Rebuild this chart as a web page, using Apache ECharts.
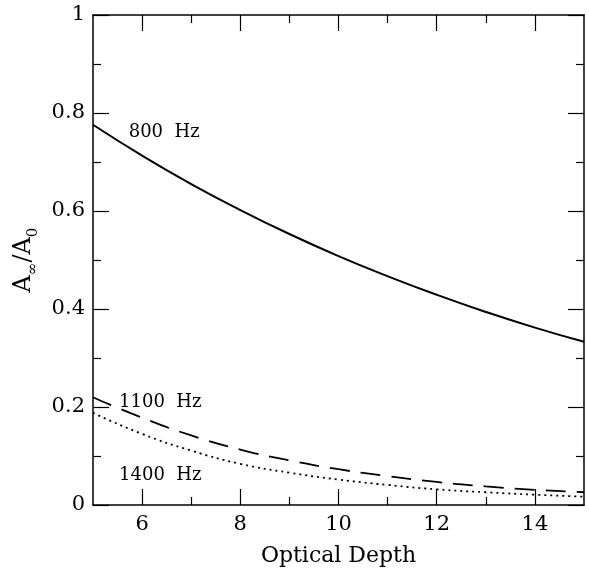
<!DOCTYPE html>
<html><head><meta charset="utf-8">
<script src="https://cdn.jsdelivr.net/npm/echarts@6/dist/echarts.min.js"></script>
<style>html,body{margin:0;padding:0;background:#fff}#c{width:589px;height:572px}</style>
</head><body><div id="c"></div>
<script>
const depth = [5, 6, 7, 8, 9, 10, 11, 12, 13, 14, 15];
const hz800 = [0.776, 0.713, 0.655, 0.602, 0.553, 0.508, 0.467, 0.429, 0.394, 0.362, 0.333];
const hz1100 = [0.220, 0.178, 0.142, 0.113, 0.091, 0.073, 0.059, 0.047, 0.038, 0.031, 0.026];
const hz1400 = [0.188, 0.145, 0.111, 0.084, 0.066, 0.052, 0.041, 0.032, 0.026, 0.021, 0.017];
const xMajor = [6, 8, 10, 12, 14];
const xMinor = [7, 9, 11, 13];
const labels = [
  {text: '800  Hz', x: 6.45, y: 0.761},
  {text: '1100  Hz', x: 6.37, y: 0.209},
  {text: '1400  Hz', x: 6.37, y: 0.060}
];
const FONT = 'DejaVu Serif';
const pairs = a => depth.map((d, i) => [d, a[i]]);
const chart = echarts.init(document.getElementById('c'));
const lineC = '#000';
function xAx(pos, ticks, len, showLabel, showLine, name) {
  return {
    type: 'value', position: pos, min: 5, max: 15, interval: 1,
    name: name || '', nameLocation: 'middle', nameGap: 40,
    nameTextStyle: {fontFamily: FONT, fontSize: 22, color: '#000'},
    axisLine: {show: showLine, onZero: false, lineStyle: {color: lineC, width: 1.5}},
    axisTick: {show: true, inside: true, length: len, customValues: ticks, lineStyle: {color: lineC, width: 1.2}},
    axisLabel: {show: showLabel, customValues: xMajor, fontFamily: FONT, fontSize: 21, color: '#000', margin: 9},
    splitLine: {show: false}
  };
}
function yAx(pos, showLabel, name) {
  return {
    type: 'value', position: pos, min: 0, max: 1, interval: 0.2,
    name: name || '', nameLocation: 'middle', nameGap: 49, nameRotate: 90,
    nameTextStyle: {
      rich: {
        a: {fontFamily: FONT, fontSize: 24, color: '#000', lineHeight: 34, verticalAlign: 'middle'},
        s: {fontFamily: FONT, fontSize: 15, color: '#000', lineHeight: 34, verticalAlign: 'bottom', padding: [9, 0, 0, 0]}
      }
    },
    axisLine: {show: true, onZero: false, lineStyle: {color: lineC, width: 1.5}},
    axisTick: {show: true, inside: true, length: 16, lineStyle: {color: lineC, width: 1.2}},
    minorTick: {show: true, splitNumber: 2, length: 8, lineStyle: {color: lineC, width: 1.2}},
    axisLabel: {show: showLabel, fontFamily: FONT, fontSize: 21, color: '#000', margin: 8,
      formatter: v => (v === 0 || v === 1) ? String(v) : v.toFixed(1)},
    splitLine: {show: false}, minorSplitLine: {show: false}
  };
}
function mark(l) {
  return {
    symbol: 'circle', symbolSize: 1, itemStyle: {color: 'rgba(0,0,0,0)'},
    data: [{coord: [l.x, l.y]}],
    label: {show: true, position: 'inside', formatter: l.text, fontFamily: FONT, fontSize: 18, color: '#000'}
  };
}
const option = {
  backgroundColor: '#fff',
  animation: false,
  grid: {left: 93, right: 5, top: 15, bottom: 67},
  xAxis: [
    xAx('bottom', xMajor, 16, true, true, 'Optical Depth'),
    xAx('bottom', xMinor, 8, false, false),
    xAx('top', xMajor, 16, false, true),
    xAx('top', xMinor, 8, false, false)
  ],
  yAxis: [
    yAx('left', true, '{a|A}{s|∞}{a|/A}{s|0}'),
    yAx('right', false)
  ],
  series: [
    {type: 'line', data: pairs(hz800), smooth: true, showSymbol: false,
      lineStyle: {color: '#000', width: 2}, markPoint: mark(labels[0])},
    {type: 'line', data: pairs(hz1100), smooth: true, showSymbol: false,
      lineStyle: {color: '#000', width: 1.8, type: [20, 11]}, markPoint: mark(labels[1])},
    {type: 'line', data: pairs(hz1400), smooth: true, showSymbol: false,
      lineStyle: {color: '#000', width: 1.8, type: [2, 4]}, markPoint: mark(labels[2])}
  ]
};
chart.setOption(option);
</script></body></html>
